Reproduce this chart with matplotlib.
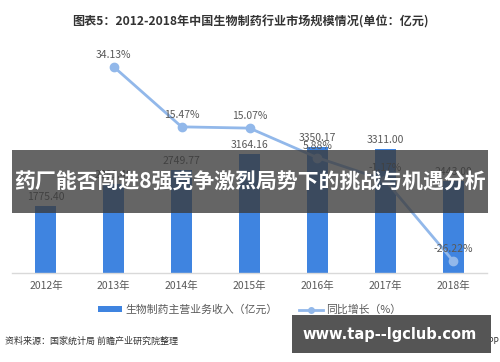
import matplotlib
matplotlib.use("Agg")
import matplotlib.pyplot as plt
from matplotlib.patches import Rectangle
from matplotlib.lines import Line2D
from matplotlib.patches import Patch

plt.rcParams['font.family'] = ['Noto Sans CJK SC', 'DejaVu Sans']

years = ["2012年", "2013年", "2014年", "2015年", "2016年", "2017年", "2018年"]
revenue = [1775.40, 2381.40, 2749.77, 3164.16, 3350.17, 3311.00, 2443.00]
growth_years = [1, 2, 3, 4, 5, 6]
growth = [34.13, 15.47, 15.07, 5.88, -1.17, -26.22]

bar_color = "#3f84e0"
line_color = "#92b8ea"
text_gray = "#595959"

fig = plt.figure(figsize=(5.0, 3.62), dpi=100)
fig.patch.set_facecolor("white")

ax = fig.add_axes([12/500, 89/362, 475/500, 225/362])
x = list(range(len(years)))
ax.bar(x, revenue, width=0.31, color=bar_color, zorder=2)
ax.set_xlim(-0.5, 6.5)
ax.set_ylim(0, 6000)
ax.set_yticks([])
ax.set_xticks(x)
ax.set_xticklabels(years, fontsize=7.5, color=text_gray)
ax.tick_params(axis='x', length=0, pad=6)
for s in ["top", "right", "left"]:
    ax.spines[s].set_visible(False)
ax.spines["bottom"].set_color("#d9d9d9")
ax.spines["bottom"].set_linewidth(1)
ax.set_facecolor("none")

for xi, v in zip(x, revenue):
    ax.annotate(f"{v:.2f}", (xi, v), xytext=(0, 3), textcoords="offset points",
                ha="center", va="bottom", fontsize=7.5, color=text_gray, zorder=3)

ax2 = ax.twinx()
ax2.set_ylim(-30, 40)
ax2.set_yticks([])
for s in ["top", "right", "left", "bottom"]:
    ax2.spines[s].set_visible(False)
ax2.plot(growth_years, growth, color=line_color, lw=2, marker="o",
         markersize=6, markerfacecolor=line_color, markeredgecolor=line_color, zorder=4)
for xi, v in zip(growth_years, growth):
    ax2.annotate(f"{v:.2f}%", (xi, v), xytext=(0, 5), textcoords="offset points",
                 ha="center", va="bottom", fontsize=7.5, color=text_gray, zorder=5)

# title
fig.text(0.5, 1 - 22/362, "图表5：2012-2018年中国生物制药行业市场规模情况(单位：亿元)",
         ha="center", va="center", fontsize=8.7, fontweight="bold", color="#333333")

# legend
handles = [Patch(facecolor=bar_color, edgecolor="none"),
           Line2D([0], [0], color=line_color, lw=2, marker="o", markersize=4)]
labels = ["生物制药主营业务收入（亿元）", "同比增长（%）"]
fig.legend(handles, labels, loc="center", bbox_to_anchor=(0.5, 1 - 310/362),
           ncol=2, frameon=False, fontsize=7.8, labelcolor=text_gray,
           handlelength=2.2, handleheight=0.5, columnspacing=2.0, handletextpad=0.3)

# source
fig.text(5/500, 1 - 341/362, "资料来源：国家统计局 前瞻产业研究院整理",
         ha="left", va="center", fontsize=6.5, color="#333333")
fig.text(499/500, 1 - 341/362, "@前瞻经济学人APP",
         ha="right", va="center", fontsize=6, color="#333333")

# banner overlay
fig.patches.append(Rectangle((12/500, 1 - 213/362), 476/500, 63/362,
                             transform=fig.transFigure, facecolor="#3a3a3a",
                             alpha=0.78, edgecolor="none", zorder=10))
fig.text(250/500, 1 - 182/362, "药厂能否闯进8强竞争激烈局势下的挑战与机遇分析",
         ha="center", va="center", fontsize=15, fontweight="bold", color="white", zorder=11)

# url box
fig.patches.append(Rectangle((292/500, 1 - 353/362), 199/500, 38/362,
                             transform=fig.transFigure, facecolor="#555555",
                             edgecolor="none", zorder=10))
fig.text(390/500, 1 - 334/362, "www.tap--lgclub.com", ha="center", va="center",
         fontsize=10.5, fontweight="bold", color="white", zorder=11,
         family=["DejaVu Sans"])

fig.savefig("out.png", dpi=100)
